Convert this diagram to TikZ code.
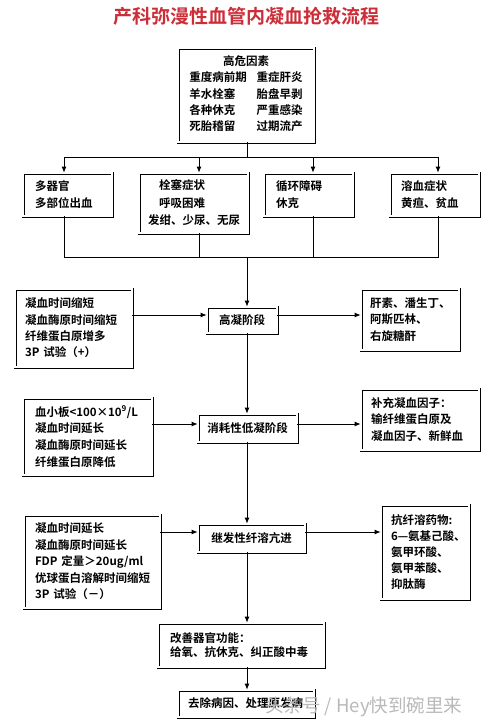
\documentclass[tikz,border=0pt]{standalone}
\usepackage{fontspec}
\setmainfont{Noto Sans CJK SC}[BoldFont={Noto Sans CJK SC Bold}]
\usetikzlibrary{arrows.meta}
\definecolor{titlered}{RGB}{205,45,55}
\definecolor{wmgray}{RGB}{185,185,185}
\begin{document}
\begin{tikzpicture}[x=1pt,y=-1pt,
  box/.style={draw, double, double distance=1.4pt, line width=0.8pt, rectangle,
    inner ysep=0pt, align=left, font=\fontsize{11.5}{16.3}\selectfont\bfseries},
  stage/.style={box, align=center, inner xsep=0pt},
  conn/.style={line width=0.8pt},
  arr/.style={conn, -{Latex[length=6pt,width=5pt]}}]
\useasboundingbox[fill=white] (0,0) rectangle (495,728);

\node[font=\fontsize{19}{22}\selectfont\bfseries, text=titlered] (title) at (246.5,16) {产科弥漫性血管内凝血抢救流程};

% high-risk factors
\node[box, align=center, minimum width=136pt, minimum height=94pt, inner sep=0pt] (risk) at (246,95)
 {\begin{tabular}{@{}l@{\hspace{10pt}}l@{}}\multicolumn{2}{c}{高危因素}\\ 重度病前期 & 重症肝炎\\ 羊水栓塞 & 胎盘早剥\\ 各种休克 & 严重感染\\ 死胎稽留 & 过期流产\end{tabular}};

% four complication boxes
\node[box, text width=65pt, inner xsep=12pt, minimum height=43pt] (b1) at (67.5,194.5) {多器官\\多部位出血};
\node[box, text width=91pt, inner xsep=9pt, minimum height=60pt, font=\fontsize{11.5}{17.5}\selectfont\bfseries] (b2) at (193.5,203) {\hspace*{11pt}栓塞症状\\\hspace*{11pt}呼吸困难\\发绀、少尿、无尿};
\node[box, text width=65pt, inner xsep=12pt, minimum height=43pt] (b3) at (308.5,194.5) {循环障碍\\休克};
\node[box, text width=67pt, inner xsep=11pt, minimum height=43pt] (b4) at (434.5,194.5) {溶血症状\\黄疸、贫血};

% stages
\node[stage, minimum width=70pt, minimum height=26pt] (s1) at (242,320) {高凝阶段};
\node[stage, minimum width=99pt, minimum height=28pt] (s2) at (247.5,428) {消耗性低凝阶段};
\node[stage, minimum width=107pt, minimum height=28pt] (s3) at (251.5,538) {继发性纤溶亢进};
\node[box, text width=142pt, inner xsep=12pt, minimum height=44pt, font=\fontsize{11.5}{14.5}\selectfont\bfseries] (s4) at (241,645) {改善器官功能：\\给氧、抗休克、纠正酸中毒};
\node[box, text width=116pt, inner xsep=10pt, minimum height=27pt] (s5) at (246,703.5) {去除病因、处理原发病};

% side boxes
\node[box, text width=97pt, inner xsep=10pt, minimum height=78pt] (L1) at (73.5,328) {凝血时间缩短\\凝血酶原时间缩短\\纤维蛋白原增多\\3P 试验（+）};
\node[box, text width=80pt, inner xsep=9pt, minimum height=61pt] (R1) at (410,319.5) {肝素、潘生丁、\\阿斯匹林、\\右旋糖酐};
\node[box, text width=105pt, inner xsep=12pt, minimum height=77pt, font=\fontsize{11.5}{16.7}\selectfont\bfseries] (L2) at (87.5,436.5) {血小板<100×10\textsuperscript{9}/L\\凝血时间延长\\凝血酶原时间延长\\纤维蛋白原降低};
\node[box, text width=98pt, inner xsep=10pt, minimum height=61pt] (R2) at (420,419.5) {补充凝血因子：\\输纤维蛋白原及\\凝血因子、新鲜血};
\node[box, text width=114pt, inner xsep=11pt, minimum height=93pt, font=\fontsize{11.5}{16.5}\selectfont\bfseries] (L3) at (92,561.5) {凝血时间延长\\凝血酶原时间延长\\FDP 定量＞20ug/ml\\优球蛋白溶解时间缩短\\3P 试验（－）};
\node[box, text width=68pt, inner xsep=10pt, minimum height=94pt, font=\fontsize{11.5}{15.8}\selectfont\bfseries] (R3) at (425,552) {抗纤溶药物:\\\mbox{6—氨基己酸、}\\氨甲环酸、\\氨甲苯酸、\\抑肽酶};

% connectors: top distribution
\coordinate (j0) at (247,157);
\coordinate (h1) at (64,157);
\coordinate (h2) at (199,157);
\coordinate (h3) at (313,157);
\coordinate (h4) at (438,157);
\draw[conn] (j0 |- risk.south) -- (j0);
\draw[conn] (h1) -- (h4);
\draw[arr] (h1) -- (h1 |- b1.north);
\draw[arr] (h2) -- (h2 |- b2.north);
\draw[arr] (h3) -- (h3 |- b3.north);
\draw[arr] (h4) -- (h4 |- b4.north);

% collection bus
\coordinate (g0) at (247,257);
\coordinate (g1) at (64,257);
\coordinate (g2) at (199,257);
\coordinate (g3) at (313,257);
\coordinate (g4) at (438,257);
\draw[conn] (g1 |- b1.south) -- (g1) -- (g4) -- (g4 |- b4.south);
\draw[conn] (g2 |- b2.south) -- (g2);
\draw[conn] (g3 |- b3.south) -- (g3);

% trunk
\draw[arr] (g0) -- (g0 |- s1.north);
\draw[arr] (g0 |- s1.south) -- (g0 |- s2.north);
\draw[arr] (g0 |- s2.south) -- (g0 |- s3.north);
\draw[arr] (g0 |- s3.south) -- (g0 |- s4.north);
\draw[arr] (g0 |- s4.south) -- (g0 |- s5.north);

% side arrows
\coordinate (y1) at (0,315);
\coordinate (y2) at (0,424);
\coordinate (y3) at (0,532);
\draw[arr] (L1.east |- y1) -- (s1.west |- y1);
\draw[arr] (s1.east |- y1) -- (R1.west |- y1);
\draw[arr] (L2.east |- y2) -- (s2.west |- y2);
\draw[arr] (s2.east |- y2) -- (R2.west |- y2);
\draw[arr] (L3.east |- y3) -- (s3.west |- y3);
\draw[arr] (s3.east |- y3) -- (R3.west |- y3);

% watermark
\node[font=\fontsize{18.5}{20}\selectfont, text=wmgray, anchor=west, inner sep=0pt] (wm) at (265,707) {头条号 / Hey快到碗里来};
\end{tikzpicture}
\end{document}
